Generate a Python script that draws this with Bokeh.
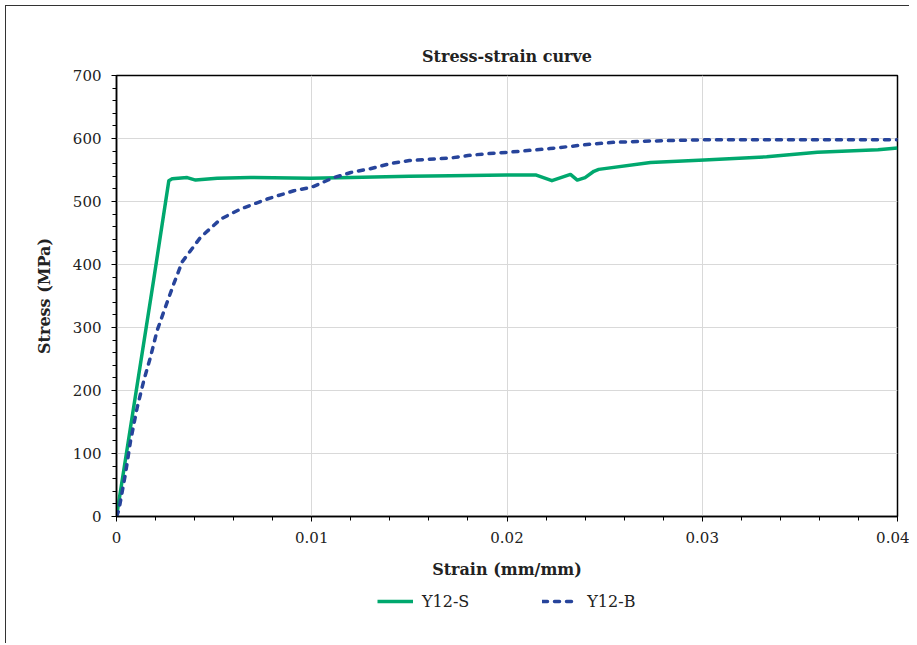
from bokeh.plotting import figure
from bokeh.models import Range1d, FixedTicker, Legend, LegendItem, Column
from bokeh.embed import file_html
from bokeh.resources import INLINE

# ---- data ----
s_strain = [0, 0.0019, 0.00268, 0.00285, 0.00362, 0.00405, 0.00516, 0.00686, 0.00994,
            0.012, 0.015, 0.0171, 0.02, 0.0215, 0.0223, 0.02325, 0.0236, 0.024,
            0.02445, 0.0247, 0.02735, 0.0301, 0.0333, 0.0359, 0.039, 0.04]
s_stress = [0, 375, 533, 536, 538, 534, 537, 538, 537,
            538, 540, 541, 542, 542, 533, 543, 534, 538,
            548, 551, 562, 566, 571, 578, 582, 585]

b_strain = [0, 0.00012, 0.00046, 0.00072, 0.00106, 0.0014, 0.00174, 0.00208, 0.0025,
            0.00293, 0.00336, 0.0043, 0.00533, 0.00635, 0.00772, 0.00908, 0.01002,
            0.01113, 0.012, 0.013, 0.014, 0.015, 0.016, 0.0171, 0.018, 0.019, 0.02,
            0.0222, 0.0243, 0.0255, 0.02735, 0.0301, 0.033, 0.036, 0.04]
b_stress = [0, 10, 68, 120, 173, 216, 253, 295, 332,
            369, 404, 443, 472, 488, 504, 517, 523,
            538, 546, 552, 560, 565, 567, 569, 573, 576, 578,
            584, 591, 594, 596, 598, 598, 598, 598]

x_ticks = [0, 0.01, 0.02, 0.03, 0.04]
x_tick_labels = ["0", "0.01", "0.02", "0.03", "0.04"]
y_ticks = [0, 100, 200, 300, 400, 500, 600, 700]
series_names = ["Y12-S", "Y12-B"]

FONT = "DejaVu Serif"
GREEN = "#00a86e"
BLUE = "#27449b"
DASH = "5 7"

p = figure(width=903, height=580, output_backend="svg", toolbar_location=None,
           x_range=Range1d(0, 0.04), y_range=Range1d(0, 700),
           min_border_left=110, min_border_right=12, min_border_top=69,
           min_border_bottom=70)

p.title.text = "Stress-strain curve"
p.title.align = "center"
p.title.text_font = FONT
p.title.text_font_size = "16px"
p.title.text_font_style = "bold"
p.title.text_color = "#222222"
p.title.standoff = 20

p.outline_line_color = "black"
p.outline_line_width = 1.5
p.grid.grid_line_color = "#d9d9d9"
p.grid.grid_line_width = 1

minor_x = [i * 0.002 for i in range(21)]
minor_y = [i * 20 for i in range(36)]
p.xaxis.ticker = FixedTicker(ticks=x_ticks, minor_ticks=minor_x)
p.yaxis.ticker = FixedTicker(ticks=y_ticks, minor_ticks=minor_y)
p.xaxis.major_label_overrides = {t: l for t, l in zip(x_ticks, x_tick_labels)}

for ax in (p.xaxis, p.yaxis):
    ax.axis_line_color = "black"
    ax.axis_line_width = 1.5
    ax.major_tick_line_color = "black"
    ax.minor_tick_line_color = "black"
    ax.major_tick_in = 0
    ax.major_tick_out = 5
    ax.minor_tick_in = 0
    ax.minor_tick_out = 4
    ax.major_label_text_font = FONT
    ax.major_label_text_font_size = "15px"
    ax.major_label_text_color = "#222222"
    ax.axis_label_text_font = FONT
    ax.axis_label_text_font_size = "16px"
    ax.axis_label_text_font_style = "bold"
    ax.axis_label_text_color = "#222222"

p.xaxis.axis_label = "Strain (mm/mm)"
p.yaxis.axis_label = "Stress (MPa)"
p.xaxis.major_label_standoff = 10
p.xaxis.axis_label_standoff = 14
p.yaxis.major_label_standoff = 10
p.yaxis.axis_label_standoff = 16

p.line(s_strain, s_stress, line_color=GREEN, line_width=3.5, line_join="round")
p.line(b_strain, b_stress, line_color=BLUE, line_width=3.5, line_dash=DASH,
       line_cap="round", line_join="round")

# legend strip below the chart; the same series are drawn here but fall
# outside this strip's y range, so only the legend entries show
leg = figure(width=903, height=57, output_backend="svg", toolbar_location=None,
             x_range=Range1d(0, 0.04), y_range=Range1d(-20, -10),
             x_axis_type=None, y_axis_type=None,
             min_border=0, min_border_left=0, min_border_right=0,
             min_border_top=0, min_border_bottom=0)
leg.grid.visible = False
leg.outline_line_color = None
lr1 = leg.line(s_strain, s_stress, line_color=GREEN, line_width=3.5)
lr2 = leg.line(b_strain, b_stress, line_color=BLUE, line_width=3.5, line_dash=DASH,
               line_cap="round")
legend = Legend(items=[LegendItem(label=series_names[0], renderers=[lr1]),
                       LegendItem(label=series_names[1], renderers=[lr2])],
                orientation="horizontal", location=(261, 32),
                border_line_color=None, background_fill_alpha=0,
                label_text_font=FONT, label_text_font_size="16px",
                label_text_color="#222222", glyph_width=36, glyph_height=20,
                label_standoff=9, spacing=73, padding=0, margin=0)
leg.add_layout(legend, "center")

layout = Column(p, leg, spacing=0, margin=(5, 0, 0, 5),
                styles={"border-left": "1.5px solid #333",
                        "border-top": "1.5px solid #333"})

open("out.html", "w").write(file_html(layout, INLINE))
